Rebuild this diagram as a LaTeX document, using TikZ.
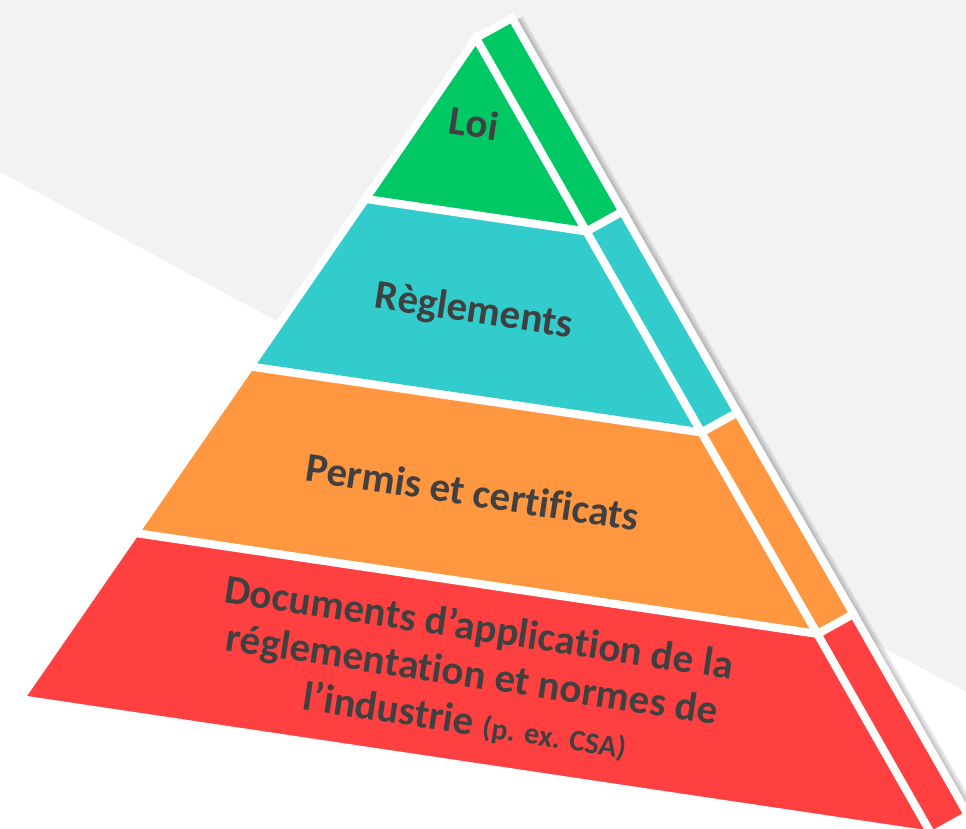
\documentclass[tikz,border=0pt]{standalone}
\usepackage{fontspec}
\setmainfont{Carlito}[Ligatures=NoCommon]
\usetikzlibrary{calc}
\definecolor{loigreen}{RGB}{0,200,100}
\definecolor{regteal}{RGB}{51,204,204}
\definecolor{permorange}{RGB}{255,150,64}
\definecolor{docred}{RGB}{255,64,64}
\definecolor{bggrey}{RGB}{242,242,242}
\definecolor{txtgrey}{RGB}{64,64,64}

\begin{document}
\begin{tikzpicture}[x=1pt,y=-1pt,
  face/.style={draw=white,line width=8pt},
  lbl/.style={text=txtgrey,font=\bfseries\fontsize{41}{47}\selectfont,rotate=-8.6,align=center}]
\useasboundingbox (0,0) rectangle (966,828);
\clip (0,0) rectangle (966,828);
\fill[bggrey] (0,0)--(966,0)--(966,692)--(0,172)--cycle;
% front face: apex, left edge, ridge
\coordinate (A) at (476,38);
\coordinate (L1) at (365.5,199); \coordinate (R1) at (586.5,231.5);
\coordinate (L2) at (250,366.5); \coordinate (R2) at (701.5,432.5);
\coordinate (L3) at (135,533);   \coordinate (R3) at (817.5,634);
\coordinate (L4) at (20,699);    \coordinate (R4) at (932,835);
% side strip, outer edge
\foreach \i in {0,...,4}{
  \ifnum\i=0 \coordinate (O0) at ($(A)+(36,-20)$);
  \else \coordinate (O\i) at ($(R\i)+(36,-20)$); \fi}
% shadow
\foreach \w in {6,10,14,18}
  \draw[black,opacity=.08,line width=\w pt] ($(O0)+(3,3)$)--($(O4)+(3,3)$);
% layers
\filldraw[face,fill=loigreen] (A)--(R1)--(L1)--cycle;
\filldraw[face,fill=loigreen] (A)--(O0)--(O1)--(R1)--cycle;
\filldraw[face,fill=regteal] (L1)--(R1)--(R2)--(L2)--cycle;
\filldraw[face,fill=regteal] (R1)--(O1)--(O2)--(R2)--cycle;
\filldraw[face,fill=permorange] (L2)--(R2)--(R3)--(L3)--cycle;
\filldraw[face,fill=permorange] (R2)--(O2)--(O3)--(R3)--cycle;
\filldraw[face,fill=docred] (L3)--(R3)--(R4)--(L4)--cycle;
\filldraw[face,fill=docred] (R3)--(O3)--(O4)--(R4)--cycle;
% labels
\node[lbl] (loi) at (474,123) {Loi};
\node[lbl] (reglements) at (474,312) {Règlements};
\node[lbl] (permis) at (473,492) {Permis et certificats};
\node[lbl] (documents) at (472,675) {Documents d’application de la\\réglementation et normes de\\l’industrie {\fontsize{30}{47}\selectfont(p. ex. CSA)}};
\end{tikzpicture}
\end{document}
